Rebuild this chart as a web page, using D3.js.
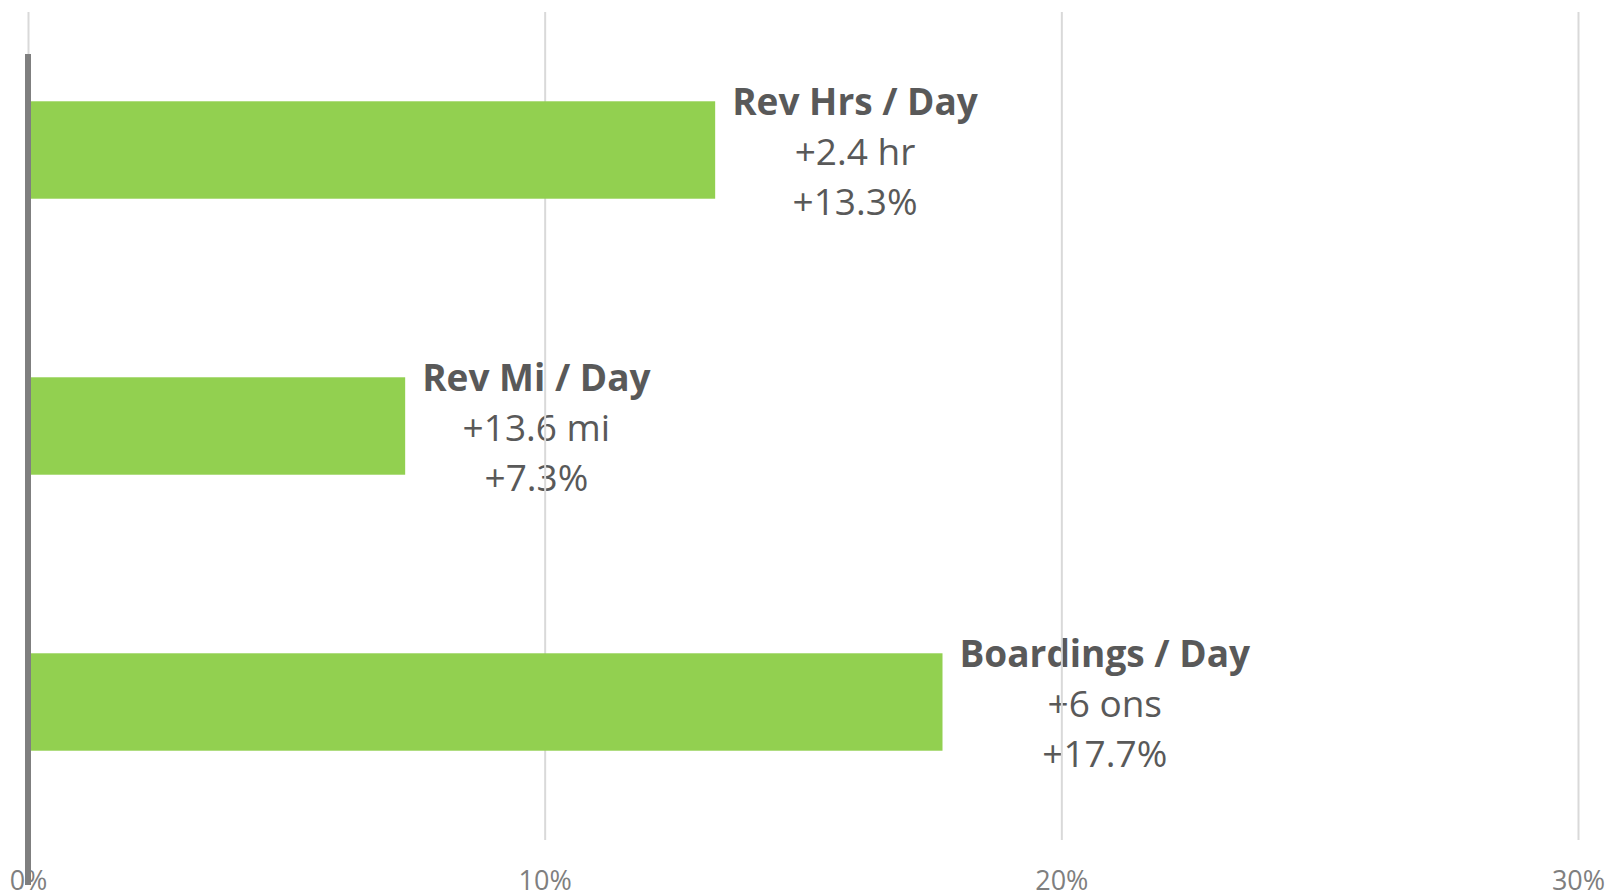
<!DOCTYPE html>
<html>
<head>
<meta charset="utf-8">
<script src="https://cdn.jsdelivr.net/npm/d3@7"></script>
<style>
  body { margin: 0; background: #fff; }
  text { font-family: "Open Sans", sans-serif; }
  .grid line { stroke: #d9d9d9; stroke-width: 2; }
  .grid path { display: none; }
  .x-axis path, .x-axis line { display: none; }
  .x-axis text { fill: #7f7f7f; font-size: 27px; }
  .lbl { font-size: 37px; fill: #595959; }
</style>
</head>
<body>
<div id="chart"></div>
<script>
// Data
var categories = ["Rev Hrs / Day", "Rev Mi / Day", "Boardings / Day"];
var pctValues = [13.3, 7.3, 17.7];
var absLabels = ["+2.4 hr", "+13.6 mi", "+6 ons"];
var pctLabels = ["+13.3%", "+7.3%", "+17.7%"];
var xTicks = [0, 10, 20, 30];

var width = 1609, height = 894;
var margin = {top: 12, right: 31, bottom: 54, left: 28};
var innerW = width - margin.left - margin.right,
    innerH = height - margin.top - margin.bottom;

var svg = d3.select("#chart").append("svg")
    .attr("width", width)
    .attr("height", height)
  .append("g")
    .attr("transform", "translate(" + margin.left + "," + margin.top + ")");

var x = d3.scaleLinear().domain([0, 30]).range([0, innerW]);
var y = d3.scaleBand().domain(categories).range([0, innerH]).paddingInner(0.647).paddingOuter(0.3235);

// labels (drawn first, gridlines pass over them)
var labelLayer = svg.append("g");
categories.forEach(function(c, i) {
  var cy = y(c) + y.bandwidth() / 2;
  var title = labelLayer.append("text")
      .attr("class", "lbl")
      .attr("y", cy - 35)
      .attr("text-anchor", "middle")
      .style("font-weight", "bold")
      .text(c);
  var tw = title.node().getComputedTextLength();
  var cx = x(pctValues[i]) + 17 + tw / 2;
  title.attr("x", cx);
  labelLayer.append("text")
      .attr("class", "lbl")
      .attr("x", cx).attr("y", cy + 15)
      .attr("text-anchor", "middle")
      .text(absLabels[i]);
  labelLayer.append("text")
      .attr("class", "lbl")
      .attr("x", cx).attr("y", cy + 65)
      .attr("text-anchor", "middle")
      .text(pctLabels[i]);
});

// vertical grid
svg.append("g")
    .attr("class", "grid")
    .call(d3.axisBottom(x).tickValues(xTicks).tickSize(innerH).tickFormat(""));

// x tick labels
svg.append("g")
    .attr("class", "x-axis")
    .attr("transform", "translate(0," + innerH + ")")
    .call(d3.axisBottom(x).tickValues(xTicks).tickSize(0).tickPadding(31)
      .tickFormat(function(d) { return d + "%"; }));

// bars
svg.selectAll(".bar")
    .data(categories)
  .enter().append("rect")
    .attr("class", "bar")
    .attr("x", x(0))
    .attr("y", function(d) { return y(d); })
    .attr("width", function(d, i) { return x(pctValues[i]) - x(0); })
    .attr("height", y.bandwidth())
    .style("fill", "#92d050");

// zero axis line (sits a little lower than the plot area)
svg.append("line")
    .attr("id", "zero-line")
    .attr("x1", x(0)).attr("x2", x(0))
    .attr("y1", 42).attr("y2", innerH + 45)
    .style("stroke", "#7f7f7f")
    .style("stroke-width", 6);
</script>
</body>
</html>
